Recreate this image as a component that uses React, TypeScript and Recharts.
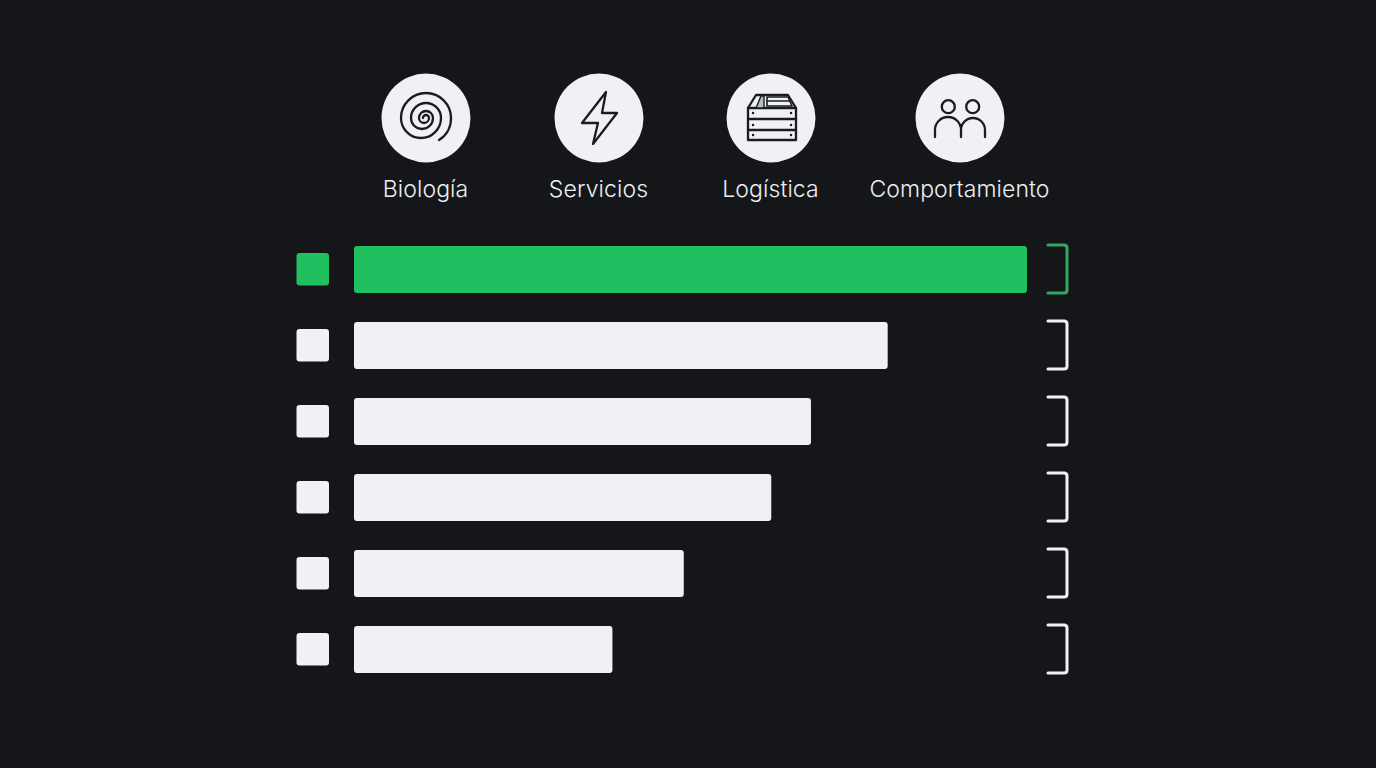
import React from "react";
import { BarChart, Bar, Cell, XAxis, YAxis } from "recharts";

const rowIds = ["Fila 1", "Fila 2", "Fila 3", "Fila 4", "Fila 5", "Fila 6"];
const rowValues = [100, 79.3, 67.9, 62, 49, 38.4];
const topicLabels = ["Biología", "Servicios", "Logística", "Comportamiento"];

const chartData = rowIds.map((row, i) => ({ row, value: rowValues[i] }));

const BG = "#14161a";
const GREEN = "#20bf60";
const WHITE = "#eff1f5";
const INK = "#1a1c1f";

const colorFor = (i: number) => (i === 0 ? GREEN : WHITE);

const SquareTick = (props: any) => {
  const { x, y, index } = props;
  return <rect x={x - 57.5} y={y - 16} width={32.5} height={32.5} rx={3} fill={colorFor(index)} />;
};

const BracketTick = (props: any) => {
  const { x, y, index } = props;
  const stroke = index === 0 ? "#35a862" : WHITE;
  return (
    <path
      d={`M${x + 21} ${y - 24}H${x + 37}Q${x + 40} ${y - 24} ${x + 40} ${y - 21}V${y + 21}Q${x + 40} ${y + 24} ${x + 37} ${y + 24}H${x + 21}`}
      fill="none"
      stroke={stroke}
      strokeWidth={3}
      strokeLinecap="round"
    />
  );
};

const iconStroke = { fill: "none", stroke: INK, strokeWidth: 2.3, strokeLinecap: "round", strokeLinejoin: "round" } as const;

const Spiral = () => (
  <path
    {...iconStroke}
    d="M-3 0A3 3 0 0 1 3 0A5 5 0 0 1 -7 0A7 7 0 0 1 7 0A11 11 0 0 1 -15 0A15 15 0 0 1 15 0A20 20 0 0 1 -25 0A25 25 0 0 1 25 0A25 25 0 0 1 13 22"
  />
);
const Bolt = () => <path {...iconStroke} d="M7 -26L-17 5H-1L-6 26L18 -5H3Z" />;
const Crate = () => (
  <g {...iconStroke}>
    <path d="M-23 -10L-15 -23H17L25 -10" />
    <rect x={-23} y={-10} width={48} height={32} />
    <path d="M-23 1H25M-23 12H25" />
    <path d="M-15 -10L-10 -22H-7V-10Z" fill="#b8bbc0" strokeWidth={1.4} />
    <path d="M-4 -21H17L21 -12H-4Z" strokeWidth={1.6} />
    <path d="M-4 -17H18" strokeWidth={1.6} />
    <path d="M-18 -5h.1M20 -5h.1M-18 7h.1M20 7h.1M-18 17h.1M20 17h.1" strokeWidth={2.4} />
  </g>
);
const People = () => (
  <g {...iconStroke}>
    <circle cx={-11.7} cy={-11.3} r={6.5} />
    <circle cx={12.7} cy={-11.3} r={6.5} />
    <path d="M-25 19V12A13 13 0 0 1 1 12V19M1 12A12 12 0 0 1 25 12V19" />
  </g>
);
const icons = [Spiral, Bolt, Crate, People];
const headerCenters = [425.5, 598.5, 770.5, 959.5];

export default function App() {
  return (
    <div style={{ position: "absolute", left: 0, top: 0, width: 1376, height: 768, background: BG, overflow: "hidden" }}>
      <BarChart
        width={1376}
        height={768}
        layout="vertical"
        data={chartData}
        margin={{ top: 231, right: 0, bottom: 81, left: 0 }}
        barCategoryGap={0}
      >
        <XAxis type="number" domain={[0, 100]} hide />
        <YAxis
          yAxisId="left"
          type="category"
          dataKey="row"
          width={354}
          axisLine={false}
          tickLine={false}
          tickSize={0}
          tickMargin={0}
          interval={0}
          tick={SquareTick}
        />
        <YAxis
          yAxisId="right"
          orientation="right"
          type="category"
          dataKey="row"
          width={349}
          axisLine={false}
          tickLine={false}
          tickSize={0}
          tickMargin={0}
          interval={0}
          tick={BracketTick}
        />
        <Bar yAxisId="left" dataKey="value" barSize={47} radius={3} isAnimationActive={false}>
          {chartData.map((d, i) => (
            <Cell key={d.row} fill={colorFor(i)} />
          ))}
        </Bar>
      </BarChart>
      {topicLabels.map((label, i) => {
        const Icon = icons[i];
        const cx = headerCenters[i];
        return (
          <div key={label} style={{ position: "absolute", left: cx - 120, top: 73, width: 240, textAlign: "center" }}>
            <svg width={90} height={90} viewBox="-45 -45 90 90" style={{ display: "block", margin: "0 auto" }}>
              <circle r={44.5} fill={WHITE} />
              <Icon />
            </svg>
            <div
              style={{
                marginTop: 11,
                fontFamily: "Inter, sans-serif",
                fontSize: 23,
                lineHeight: "30px",
                color: "#eceef1",
                fontWeight: 300,
                letterSpacing: 0.1,
              }}
            >
              {label}
            </div>
          </div>
        );
      })}
    </div>
  );
}
